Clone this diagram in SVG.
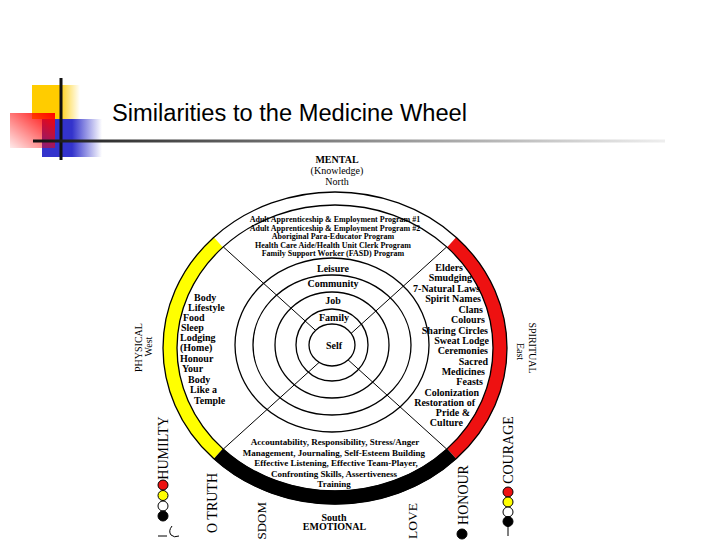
<svg xmlns="http://www.w3.org/2000/svg" width="720" height="540" viewBox="0 0 720 540">
<defs>
<linearGradient id="gYel" x1="0" y1="0" x2="1" y2="0"><stop offset="0" stop-color="#FFCC00"/><stop offset="0.55" stop-color="#FFCC00"/><stop offset="1" stop-color="#FFCC00" stop-opacity="0"/></linearGradient>
<linearGradient id="gBlue" x1="0" y1="0" x2="1" y2="0"><stop offset="0" stop-color="#3333CC"/><stop offset="0.5" stop-color="#3333CC"/><stop offset="1" stop-color="#3333CC" stop-opacity="0"/></linearGradient>
<linearGradient id="gRed" x1="1" y1="0" x2="0" y2="1"><stop offset="0" stop-color="#FF0000"/><stop offset="1" stop-color="#FF0000" stop-opacity="0.08"/></linearGradient>
<linearGradient id="gLine" x1="0" y1="0" x2="1" y2="0"><stop offset="0" stop-color="#111"/><stop offset="0.12" stop-color="#333"/><stop offset="0.5" stop-color="#888"/><stop offset="1" stop-color="#eee"/></linearGradient>
</defs>
<style>
.t{font-family:"Liberation Serif","Times New Roman",serif;fill:#000}
.b{font-weight:bold}
.s8{font-size:8px}
.s9{font-size:9px}
.s10{font-size:10px}
.s14{font-size:14px}
.ln{stroke:#000;stroke-width:1;fill:none}
.ring{stroke:#000;stroke-width:1.3;fill:none}
.self{stroke:#000;stroke-width:1.3;fill:#fff}
.dot{stroke:#000;stroke-width:1}
</style>
<rect width="720" height="540" fill="#fff"/>

<g id="logo">
<rect x="32" y="85" width="48" height="34" fill="url(#gYel)"/>
<rect x="42" y="119" width="60" height="38" fill="url(#gBlue)"/>
<rect x="10" y="113" width="45" height="35" fill="url(#gRed)"/>
<rect x="59.5" y="78" width="3" height="82" fill="#111"/>
<rect x="33" y="139.5" width="632" height="3" fill="url(#gLine)"/>
</g>

<g id="title">
<text x="112" y="120.5" font-family="Liberation Sans, Arial, sans-serif" font-size="23.5" fill="#000" textLength="355" lengthAdjust="spacingAndGlyphs">Similarities to the Medicine Wheel</text>
</g>

<g id="band">
<path d="M218.33 453.71 A165 149.5 0 0 1 218.33 242.29" stroke="#FFFF00" stroke-width="14" fill="none"/>
<path d="M451.67 242.29 A165 149.5 0 0 1 451.67 453.71" stroke="#EE1111" stroke-width="14" fill="none"/>
<path d="M451.67 453.71 A165 149.5 0 0 1 218.33 453.71" stroke="#000" stroke-width="14" fill="none"/>
<ellipse class="ring" cx="335" cy="348" rx="172" ry="156"/>
<ellipse class="ring" cx="335" cy="348" rx="158" ry="143"/>
</g>

<g id="connectors">
<line class="ln" x1="223.3" y1="246.9" x2="446.7" y2="449.1"/>
<line class="ln" x1="446.7" y1="246.9" x2="223.3" y2="449.1"/>
</g>

<g id="rings">
<ellipse class="ring" cx="332" cy="345" rx="97" ry="87"/>
<ellipse class="ring" cx="332" cy="345" rx="79" ry="70"/>
<ellipse class="ring" cx="332" cy="345" rx="57" ry="53"/>
<ellipse class="ring" cx="332" cy="345" rx="36" ry="36"/>
<ellipse class="self" cx="332" cy="345" rx="23" ry="21"/>
</g>

<g id="ring-labels" class="t b s10" text-anchor="middle">
<text x="333" y="271.5">Leisure</text>
<text x="333" y="286.5">Community</text>
<text x="333" y="303.5">Job</text>
<text x="334" y="320.5">Family</text>
<text x="334" y="348.5">Self</text>
</g>

<g id="north" class="t s10" text-anchor="middle">
<text x="337" y="163" class="b">MENTAL</text>
<text x="337" y="174">(Knowledge)</text>
<text x="337" y="185">North</text>
</g>

<g id="north-programs" class="t b s8" text-anchor="middle">
<text x="335" y="222">Adult Apprenticeship &amp; Employment Program #1</text>
<text x="335" y="230.5">Adult Apprenticeship &amp; Employment Program #2</text>
<text x="333" y="239">Aboriginal Para-Educator Program</text>
<text x="333" y="247.5">Health Care Aide/Health Unit Clerk Program</text>
<text x="333" y="256">Family Support Worker (FASD) Program</text>
</g>

<g id="west-list" class="t b s10">
<text x="194" y="300.5">Body</text>
<text x="188" y="310.5">Lifestyle</text>
<text x="183" y="320.5">Food</text>
<text x="181" y="330.5">Sleep</text>
<text x="180" y="340.5">Lodging</text>
<text x="180" y="351">(Home)</text>
<text x="180" y="361.5">Honour</text>
<text x="182" y="372">Your</text>
<text x="188" y="382.5">Body</text>
<text x="190" y="393">Like a</text>
<text x="194" y="403.5">Temple</text>
</g>

<g id="east-list" class="t b s10" text-anchor="end">
<text x="463" y="270.5">Elders</text>
<text x="472" y="280.5">Smudging</text>
<text x="480" y="291.5">7-Natural Laws</text>
<text x="481" y="302">Spirit Names</text>
<text x="483" y="312.5">Clans</text>
<text x="485" y="323">Colours</text>
<text x="488" y="333.5">Sharing Circles</text>
<text x="489" y="343.5">Sweat Lodge</text>
<text x="488" y="353.5">Ceremonies</text>
<text x="488" y="364.5">Sacred</text>
<text x="485" y="374.5">Medicines</text>
<text x="483" y="384.5">Feasts</text>
<text x="479" y="395.5">Colonization</text>
<text x="475" y="405.5">Restoration of</text>
<text x="470" y="415.5">Pride &amp;</text>
<text x="463" y="425.5">Culture</text>
</g>

<g id="south-list" class="t b s9" text-anchor="middle">
<text x="335" y="445">Accountability, Responsibility, Stress/Anger</text>
<text x="334" y="455.5">Management, Journaling, Self-Esteem Building</text>
<text x="336" y="466">Effective Listening, Effective Team-Player,</text>
<text x="334" y="476.5">Confronting Skills, Assertiveness</text>
<text x="334" y="486.5">Training</text>
</g>

<g id="south" class="t b s10" text-anchor="middle">
<text x="334" y="520.5">South</text>
<text x="334.5" y="530">EMOTIONAL</text>
</g>

<g id="west" class="t s10" text-anchor="middle">
<text transform="translate(141.5 347.5) rotate(-90)">PHYSICAL</text>
<text transform="translate(151.5 346.5) rotate(-90)">West</text>
</g>

<g id="east" class="t s10" text-anchor="middle">
<text transform="translate(528.5 348) rotate(90)">SPIRITUAL</text>
<text transform="translate(517 351.5) rotate(90)">East</text>
</g>

<g id="teachings" class="t s14">
<text transform="translate(167.6 448) rotate(-90)" text-anchor="middle">HUMILTY</text>
<text transform="translate(216.6 533) rotate(-90)">O TRUTH</text>
<text transform="translate(266.4 502) rotate(-90)" text-anchor="end" font-size="13">SDOM</text>
<text transform="translate(416.6 503) rotate(-90)" text-anchor="end" font-size="13.5">LOVE</text>
<text transform="translate(467.6 495) rotate(-90)" text-anchor="middle">HONOUR</text>
<text transform="translate(512.6 450) rotate(-90)" text-anchor="middle">COURAGE</text>
</g>

<g id="dots-left">
<circle class="dot" cx="163" cy="485" r="5" fill="#EE1111"/>
<circle class="dot" cx="163" cy="495.5" r="5" fill="#FFFF00"/>
<circle class="dot" cx="163" cy="506" r="5" fill="#fff"/>
<circle class="dot" cx="163" cy="516" r="5" fill="#000"/>
<path class="ln" d="M158 536 L167 536 M172 526 Q168 531 171 535 Q174 538 179 536" stroke-width="1.3"/>
</g>

<g id="dots-right">
<circle class="dot" cx="508" cy="492" r="5" fill="#EE1111"/>
<circle class="dot" cx="508" cy="502" r="5" fill="#FFFF00"/>
<circle class="dot" cx="508" cy="512" r="5" fill="#fff"/>
<circle class="dot" cx="508" cy="521.5" r="5" fill="#000"/>
<line class="ln" x1="508" y1="526" x2="508" y2="536" stroke-width="1.3"/>
<circle class="dot" cx="462" cy="534" r="5" fill="#000"/>
</g>
</svg>
